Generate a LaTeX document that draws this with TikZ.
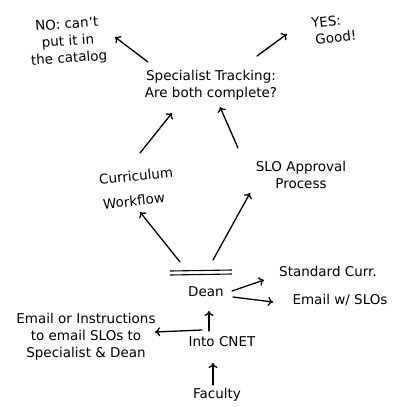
\documentclass[tikz,border=0pt]{standalone}
\usepackage{fontspec}
\setmainfont{DejaVu Sans}
\usetikzlibrary{arrows.meta}
\begin{document}
\begin{tikzpicture}[x=1pt,y=-1pt,
  lbl/.style={align=center,inner sep=1pt,font=\fontsize{13.5}{17}\selectfont},
  arr/.style={line width=1.3pt,-{To[length=5pt,width=9pt,line width=1.3pt]},line cap=round},
  ln/.style={line width=1.1pt}]
\useasboundingbox (0,0) rectangle (398,407);
% nodes
\node[lbl,rotate=4] (no) at (68,42) {NO: can't\\put it in\\the catalog};
\node[lbl] (spec) at (211,85) {Specialist Tracking:\\Are both complete?};
\node[lbl,rotate=6] (yes) at (327,30) {YES:\\\hspace*{16pt}Good!};
\node[lbl,rotate=6] (curr) at (136,176) {Curriculum};
\node[lbl,rotate=6] (wf) at (134,201) {Workflow};
\node[lbl] (slo) at (301,175) {SLO Approval\\Process};
\node[lbl] (dean) at (206,292) {Dean};
\node[lbl] (std) at (328,271) {Standard Curr.};
\node[lbl] (eml) at (340,300) {Email w/ SLOs};
\node[lbl] (cnet) at (222,342) {Into CNET};
\node[lbl] (inst) at (86,337) {Email or Instructions\\to email SLOs to\\Specialist \& Dean};
\node[lbl] (fac) at (217,395) {Faculty};
% coordinates
\coordinate (a1s) at (148,62); \coordinate (a1e) at (115,37);
\coordinate (a2s) at (257,56); \coordinate (a2e) at (287,34);
\coordinate (a3s) at (140,153); \coordinate (a3e) at (172,113);
\coordinate (a4s) at (238,148); \coordinate (a4e) at (220,107);
\coordinate (a5s) at (180,262); \coordinate (a5e) at (140,212);
\coordinate (a6s) at (213,260); \coordinate (a6e) at (250,193);
\coordinate (d1) at (170,271); \coordinate (d2) at (232,270);
\coordinate (d3) at (170,275); \coordinate (d4) at (232,274);
\coordinate (a7s) at (232,291); \coordinate (a7e) at (264,280);
\coordinate (a8s) at (233,297); \coordinate (a8e) at (273,302);
\coordinate (a9s) at (209,331); \coordinate (a9e) at (209,311);
\coordinate (a10s) at (202,330); \coordinate (a10e) at (155,332);
\coordinate (a11s) at (213,385); \coordinate (a11e) at (213,363);
% connectors
\draw[arr] (a1s) -- (a1e);
\draw[arr] (a2s) -- (a2e);
\draw[arr] (a3s) -- (a3e);
\draw[arr] (a4s) -- (a4e);
\draw[arr] (a5s) -- (a5e);
\draw[arr] (a6s) -- (a6e);
\draw[ln] (d1) -- (d2);
\draw[ln] (d3) -- (d4);
\draw[arr] (a7s) -- (a7e);
\draw[arr] (a8s) -- (a8e);
\draw[arr] (a9s) -- (a9e);
\draw[arr] (a10s) -- (a10e);
\draw[arr] (a11s) -- (a11e);
\end{tikzpicture}
\end{document}
